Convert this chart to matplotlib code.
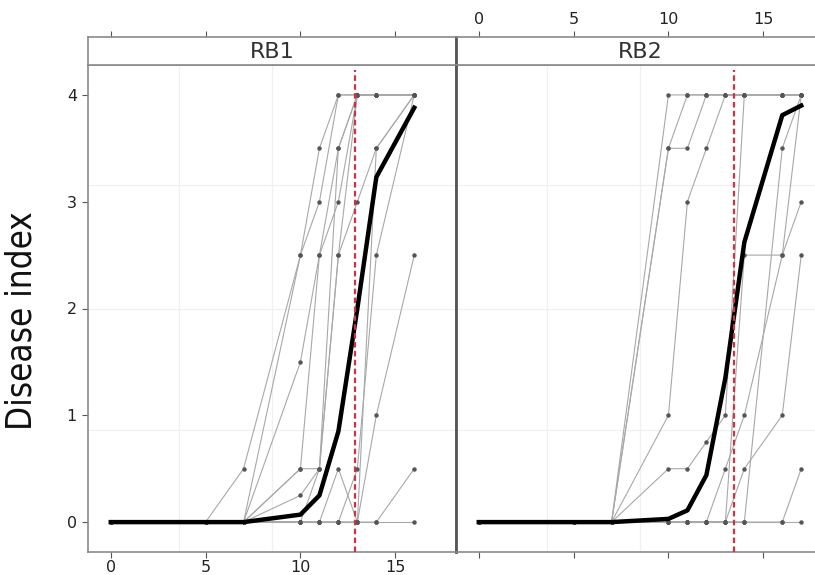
import matplotlib
matplotlib.use("Agg")
import matplotlib.pyplot as plt

# ---- data ----
panels = ["RB1", "RB2"]

days_rb1 = [0, 5, 7, 10, 11, 12, 13, 14, 16]
plants_rb1 = [
    [0, 0, 0.5, 2.5, 3.5, 4, 4, 4, 4],
    [0, 0, 0, 2.5, 3, 4, 4, 4, 4],
    [0, 0, 0, 1.5, 2.5, 3.5, 4, 4, 4],
    [0, 0, 0, 0.5, 2.5, 3, 4, 4, 4],
    [0, 0, 0, 0.25, 0.5, 2.5, 3, 3.5, 4],
    [0, 0, 0, 0.5, 0.5, 3.5, 4, 4, 4],
    [0, 0, 0, 0, 0.5, 2.5, 4, 4, 4],
    [0, 0, 0, 0, 0, 0.5, 0, 1, 2.5],
    [0, 0, 0, 0, 0, 0, 0, 0, 0.5],
    [0, 0, 0, 0, 0, 0, 0.5, 2.5, 4],
    [0, 0, 0, 0, 0, 0, 0, 3.5, 4],
    [0, 0, 0, 0, 0, 0, 0, 0, 0],
]
mean_rb1 = [0, 0, 0, 0.07, 0.25, 0.85, 2.0, 3.23, 3.88]

days_rb2 = [0, 5, 7, 10, 11, 12, 13, 14, 16, 17]
plants_rb2 = [
    [0, 0, 0, 4, 4, 4, 4, 4, 4, 4],
    [0, 0, 0, 3.5, 4, 4, 4, 4, 4, 4],
    [0, 0, 0, 3.5, 3.5, 4, 4, 4, 4, 4],
    [0, 0, 0, 1, 3, 3.5, 4, 4, 4, 4],
    [0, 0, 0, 0.5, 0.5, 0.75, 1, 4, 4, 4],
    [0, 0, 0, 0, 0, 0, 0.5, 1, 2.5, 4],
    [0, 0, 0, 0, 0, 0, 0, 0.5, 1, 2.5],
    [0, 0, 0, 0, 0, 0, 0, 0, 0, 0.5],
    [0, 0, 0, 0, 0, 0, 0, 2.5, 2.5, 3],
    [0, 0, 0, 0, 0, 0, 0, 0, 3.5, 4],
    [0, 0, 0, 0, 0, 0, 0, 0, 0, 0],
]
mean_rb2 = [0, 0, 0, 0.03, 0.11, 0.44, 1.35, 2.62, 3.81, 3.9]

threshold = [12.9, 13.45]

grid_x = [3.6, 8.5]
grid_y = [0.86, 2.0, 3.16]

x_ticks = [0, 5, 10, 15]
y_ticks = [0, 1, 2, 3, 4]

# ---- layout ----
W, H = 815, 575
fig = plt.figure(figsize=(W / 100, H / 100), dpi=100)

def fx(px):
    return px / W

def fy(px):
    return 1 - px / H

panel_w = 368
lefts = [88, 456]
top, bottom, strip_top = 65, 552, 37

frame_col = "#8a8a8a"
data = [(days_rb1, plants_rb1, mean_rb1), (days_rb2, plants_rb2, mean_rb2)]

for k in range(2):
    days, plants, mean = data[k]
    ax = fig.add_axes([fx(lefts[k]), fy(bottom), panel_w / W, (bottom - top) / H])
    sax = fig.add_axes([fx(lefts[k]), fy(top), panel_w / W, (top - strip_top) / H])

    for gx in grid_x:
        ax.axvline(gx, color="#f0f0f0", lw=0.9, zorder=0)
    for gy in grid_y:
        ax.axhline(gy, color="#f0f0f0", lw=0.9, zorder=0)

    for p in plants:
        ax.plot(days, p, color="#a8a8a8", lw=0.8, marker="o", ms=2.2,
                mfc="#555555", mec="#555555", zorder=2)
    ax.plot(days, mean, color="black", lw=3.2, solid_joinstyle="round", zorder=3)
    ax.plot([threshold[k]] * 2, [-0.28, 4.23], color="#cc3344",
            lw=1.6, ls=(0, (2.5, 1.5)), zorder=4)

    ax.set_xlim(-1.2, 18.2)
    ax.set_ylim(-0.28, 4.28)
    ax.set_xticks(x_ticks)
    ax.set_yticks(y_ticks)
    for s in ax.spines.values():
        s.set_color(frame_col)
        s.set_linewidth(1.2)
    ax.tick_params(colors="#555555", length=4, width=0.8, labelsize=11.5,
                   labelcolor="#222222", pad=2)
    ax.tick_params(axis="y", pad=4)

    sax.set_xlim(-1.2, 18.2)
    sax.set_ylim(0, 1)
    sax.set_yticks([])
    sax.set_xticks(x_ticks)
    sax.xaxis.tick_top()
    sax.tick_params(colors="#555555", length=4, width=0.8, labelsize=11.5,
                    labelcolor="#222222", pad=3)
    for s in sax.spines.values():
        s.set_color(frame_col)
        s.set_linewidth(1.2)
    sax.text(0.5, 0.45, panels[k], transform=sax.transAxes, ha="center",
             va="center", fontsize=16, color="#333333")

    if k == 0:
        sax.set_xticklabels([])
        ax.set_ylabel("Disease index", fontsize=25, color="#111111",
                      family="DejaVu Sans", fontstretch="condensed")
        ax.yaxis.set_label_coords(-0.135, 0.475)
    else:
        ax.set_xticklabels([])
        ax.set_yticks([])
        ax.spines["left"].set_color("#555555")
        ax.spines["left"].set_linewidth(2)
        sax.spines["left"].set_color("#555555")
        sax.spines["left"].set_linewidth(2)

fig.savefig("out.png", dpi=100)
